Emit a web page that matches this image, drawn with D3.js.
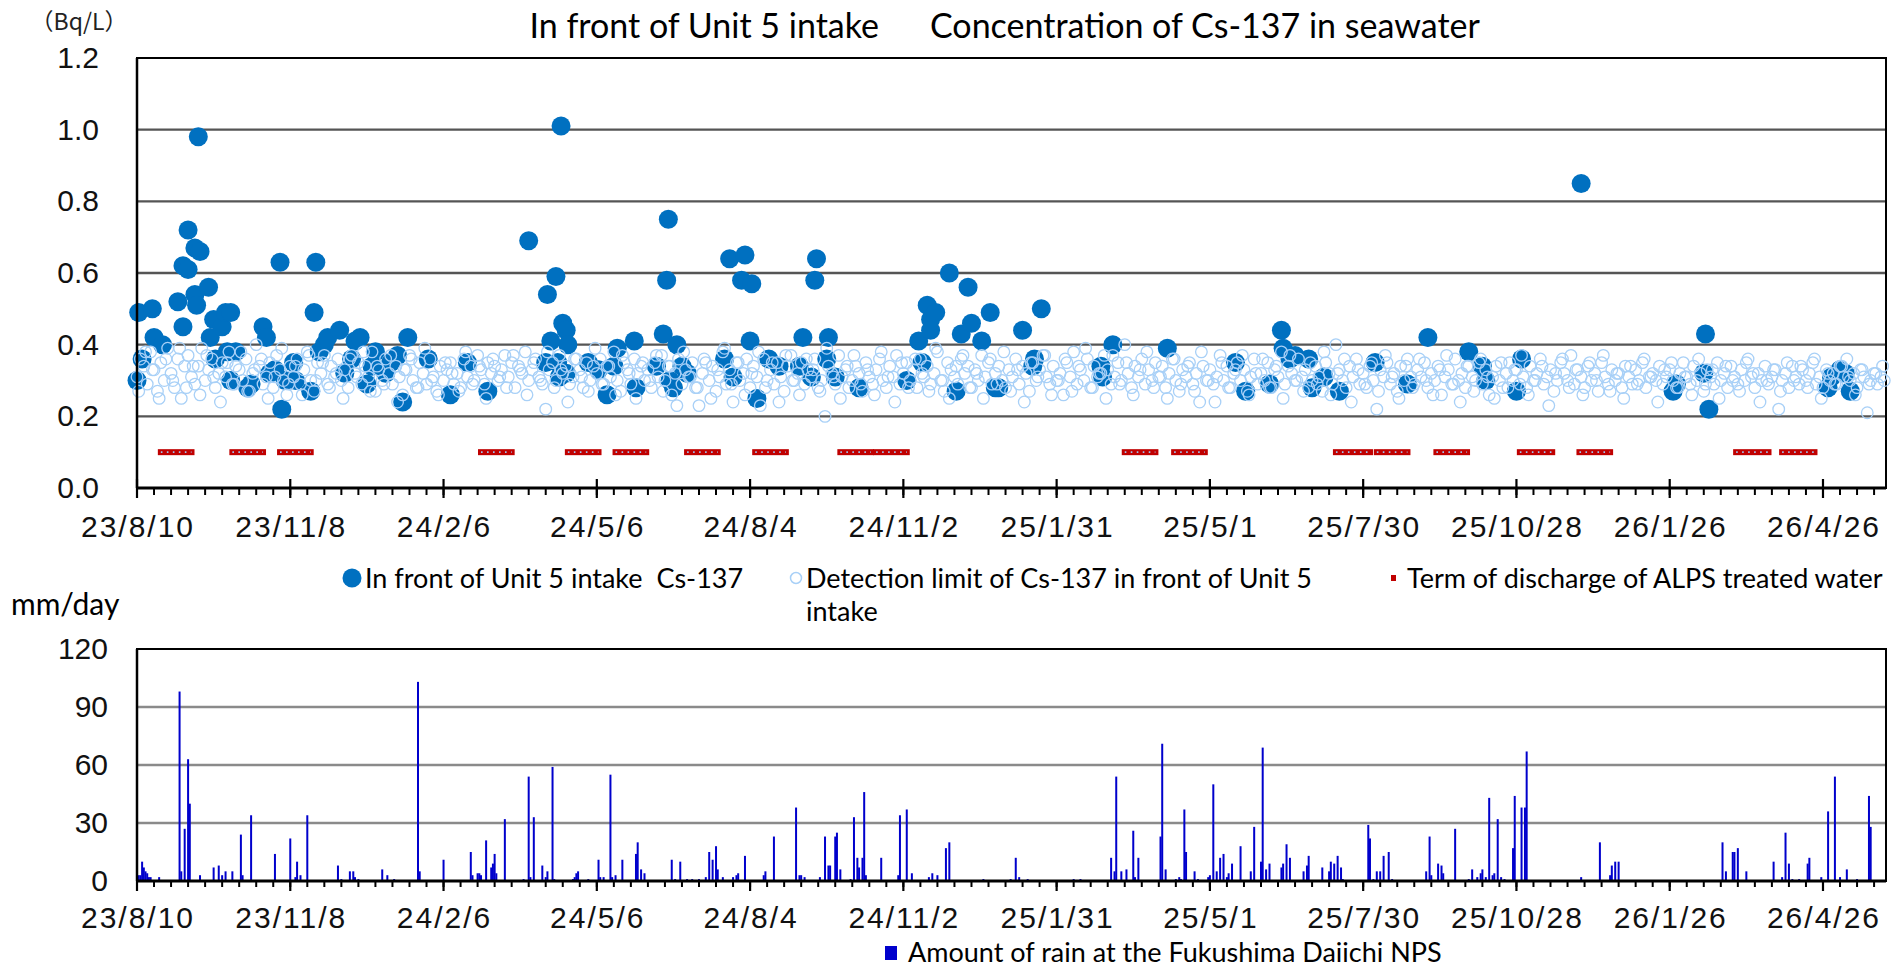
<!DOCTYPE html>
<html><head><meta charset="utf-8">
<script src="https://cdn.jsdelivr.net/npm/d3@7"></script>
<style>body{margin:0;background:#fff}svg{display:block}text{white-space:pre}</style>
</head><body>
<svg id="c" width="1904" height="967"></svg>
<script>
// ---------- DATA ----------
const startDate = "2023-08-10";
const endDate = "2026-06-02";
const tickLabels = ["23/8/10","23/11/8","24/2/6","24/5/6","24/8/4","24/11/2","25/1/31","25/5/1","25/7/30","25/10/28","26/1/26","26/4/26"];
const concTicks = [0,0.2,0.4,0.6,0.8,1.0,1.2];
const rainTicks = [0,30,60,90,120];

// Detected Cs-137 (days after 2023-08-10, Bq/L)
const csDay = [0,1,3,9,10,15,24,27,27,30,30,34,37,34,35,36,42,43,45,46,50,52,55,53,55,58,65,67,74,76,78,81,84,85,87,92,93,102,105,104,107,110,112,119,122,126,128,131,135,138,140,146,149,153,156,159,171,184,194,206,230,240,241,246,243,247,248,249,250,252,253,252,265,271,276,280,282,292,293,305,309,311,312,313,315,317,320,323,345,348,350,355,357,361,360,364,371,377,389,391,399,398,396,405,406,410,424,452,459,464,466,469,466,461,477,481,484,488,490,496,501,504,506,520,526,527,531,566,567,573,605,645,651,665,672,673,677,680,688,690,697,706,727,746,758,782,790,792,813,810,848,902,904,921,920,923,993,995,1000,1003,1006];
const csBq = [0.30,0.49,0.36,0.50,0.42,0.40,0.52,0.45,0.62,0.61,0.72,0.67,0.66,0.54,0.51,0.98,0.56,0.42,0.47,0.36,0.45,0.49,0.49,0.38,0.30,0.38,0.28,0.29,0.45,0.42,0.32,0.33,0.63,0.22,0.30,0.35,0.30,0.27,0.63,0.49,0.38,0.40,0.42,0.44,0.32,0.36,0.41,0.42,0.29,0.34,0.38,0.32,0.35,0.37,0.24,0.42,0.36,0.26,0.35,0.27,0.69,0.35,0.54,0.59,0.41,0.35,0.31,1.01,0.46,0.44,0.40,0.32,0.35,0.33,0.26,0.34,0.39,0.41,0.28,0.34,0.43,0.58,0.75,0.30,0.28,0.40,0.34,0.32,0.36,0.64,0.31,0.58,0.65,0.57,0.41,0.25,0.36,0.34,0.34,0.42,0.64,0.58,0.31,0.36,0.42,0.31,0.28,0.30,0.41,0.51,0.47,0.49,0.44,0.35,0.60,0.27,0.43,0.56,0.46,0.41,0.49,0.28,0.28,0.44,0.34,0.36,0.50,0.34,0.31,0.40,0.39,0.35,0.27,0.29,0.44,0.39,0.36,0.37,0.36,0.28,0.31,0.27,0.35,0.29,0.42,0.38,0.34,0.30,0.36,0.27,0.85,0.27,0.29,0.43,0.32,0.22,0.28,0.31,0.33,0.32,0.27];

// Detection limit of Cs-137, every 2nd day from 2023-08-10 (Bq/L)
const dlBqA = [
.31,.36,.34,.29,.38,.33,.27,.35,.30,.39,.32,.28,.36,.25,.34,
.37,.31,.29,.34,.39,.30,.33,.36,.28,.32,.35,.31,.38,.29,.34,
.33,.30,.36,.27,.32,.40,.34,.29,.31,.35,.28,.37,.33,.30,.26,
.34,.31,.36,.29,.33,.38,.30,.27,.35,.32,.37,.29,.34,.31,.36,
.30,.33,.28,.37,.32,.35,.29,.34,.31,.38,.27,.33,.30,.36,.32,
.29,.34,.31,.26,.33,.37,.30,.28,.35,.32,.29,.36,.31,.27,.34,
.30,.33,.35,.29,.32,.28,.36,.31,.34,.30,.37,.33,.29,.35,.32,
.34,.30,.33,.37,.31,.35,.28,.34,.32,.38,.30,.33,.36,.31,.29,
.22,.33,.35,.30,.37,.32,.34,.29,.31,.36,.33,.28,.35,.30,.34,
.32,.36,.29,.34,.31,.38,.30,.27,.35,.33,.29,.36,.32,.34,.30,
.33,.28,.35,.31,.37,.30,.34,.26,.32,.36,.29,.33,.31,.35,.28,
.23,.32,.35,.30,.34,.27,.31,.38,.29,.33,.24,.35,.30,.32,.36,
.28,.34,.31,.23,.36,.30,.33,.29,.35,.31,.27,.34,.37,.30,.32,
.35,.29,.33,.31,.36,.28,.30,.20,.34,.32,.29,.37,.31,.33,.28,
.30,.34,.32,.27,.35,.31,.29,.33,.36,.30,.28,.34,.31,.37,.29,
.32,.35,.30,.33,.28,.36,.31,.34,.29,.32,.38,.30,.27,.35,.33,
.31,.29,.36,.32,.34,.28,.33,.30,.37,.31,.35,.29,.32,.34,.30,
.28,.33,.31,.36,.29,.34,.32,.27,.35,.30,.33,.37,.31,.29,.34,
.30,.32,.26,.35,.31,.38,.29,.33,.30,.36,.28,.34,.31,.32,.37,
.33,.29,.31,.35,.30,.40,.32,.28,.34,.31,.36,.29,.33,.30,.35,
.31,.34,.28,.32,.36,.30,.27,.33,.31,.35,.29,.32,.24,.34,.30,
.33,.29,.31,.37,.30,.34,.28,.32,.35,.30,.33,.27,.31,.36,.29,
.32,.30,.35,.28,.33,.31,.38,.29,.34,.32,.30,.36,.31,.33,.28,
.30,.34,.31,.27,.35,.32,.29,.40,.33,.30,.28,.34,.31,.36,.29,
.32,.28,.34,.30,.22,.33,.31,.35,.29,.32,.27,.34,.30,.36,.31,
.29,.33,.31,.35,.28,.32,.30,.34,.26,.31,.33,.29,.36,.30,.32,
.28,.34,.31,.30,.35,.29,.33,.26,.31,.34,.30,.28,.32,.35,.30,
.33,.29,.31,.28,.34,.30,.32,.36,.29,.31,.33,.27,.30,.35,.32,
.30,.37,.29,.33,.31,.28,.34,.30,.32,.27,.35,.31,.29,.33,.30,
.32,.28,.34,.31,.29,.33,.30,.35,.28,.31,.32,.30,.34,.29,.31,
.33,.30,.28,.32,.35,.31,.29,.34,.30,.32,.27,.33,.31,.29,.35,
.30,.32,.28,.34,.31,.29,.33,.30,.36,.31,.28,.32,.30,.34,.29,
.31,.33,.22,.30,.32,.28,.34,.31,.29,.33,.30,.32,.35,.29,.31,
.28,.33,.30,.32,.29,.34,.31,.36,.30,.32,.28,.33,.31,.21,.30,
.32,.29,.31,.30];
// Further detection-limit readings, every 4th day from 2023-08-11 (Bq/L)
const dlBqB = [
.27,.38,.33,.25,.36,.30,.39,.28,.34,.26,.37,.31,.24,.35,.29,
.38,.27,.33,.36,.25,.31,.39,.29,.34,.26,.37,.30,.35,.28,.32,
.25,.36,.31,.38,.27,.34,.29,.37,.24,.33,.36,.28,.39,.30,.26,
.35,.32,.27,.38,.29,.34,.25,.36,.31,.28,.37,.33,.26,.35,.30,
.38,.28,.33,.24,.36,.31,.27,.39,.29,.34,.26,.37,.32,.25,.35,
.30,.37,.27,.34,.23,.38,.31,.28,.36,.25,.33,.39,.29,.35,.26,
.32,.38,.28,.35,.24,.37,.30,.26,.36,.33,.27,.39,.31,.25,.34,
.37,.29,.33,.26,.38,.31,.24,.35,.28,.36,.32,.27,.39,.30,.25,
.34,.37,.28,.32,.25,.36,.29,.38,.27,.33,.24,.35,.31,.37,.26,
.30,.36,.27,.34,.39,.28,.32,.25,.37,.29,.35,.26,.33,.38,.28,
.31,.25,.36,.29,.34,.27,.38,.30,.24,.35,.28,.33,.37,.26,.32,
.36,.28,.34,.25,.37,.30,.27,.35,.29,.38,.26,.32,.36,.24,.33,
.29,.35,.27,.37,.31,.25,.34,.28,.36,.30,.26,.33,.37,.29,.24,
.34,.27,.36,.31,.25,.35,.28,.33,.37,.26,.30,.34,.23,.32,.36,
.28,.33,.26,.35,.30,.37,.27,.32,.25,.34,.29,.36,.31,.24,.33,
.35,.28,.31,.26,.36,.29,.33,.25,.34,.30,.27,.35,.32,.24,.30,
.33,.27,.35,.30,.34,.28,.36,.25,.32,.29,.34,.31,.26,.33,.29,
.32,.34];

// Terms of discharge of ALPS treated water
const dischargeStart = ["2023-08-24","2023-10-05","2023-11-02","2024-02-28","2024-04-19","2024-05-17","2024-06-28","2024-08-07","2024-09-26","2024-10-17","2025-03-12","2025-04-10","2025-07-14","2025-08-07","2025-09-11","2025-10-30","2025-12-04","2026-03-06","2026-04-02"];
const dischargeEnd   = ["2023-09-11","2023-10-23","2023-11-20","2024-03-17","2024-05-07","2024-06-04","2024-07-16","2024-08-25","2024-10-14","2024-11-04","2025-03-30","2025-04-28","2025-08-03","2025-08-25","2025-09-29","2025-11-18","2025-12-22","2026-03-25","2026-04-21"];

// Daily rain (days after 2023-08-10, mm/day)
const rainDay = [0,1,2,3,4,5,6,7,8,13,25,26,28,30,31,37,45,48,50,52,56,61,62,67,81,90,93,94,96,100,118,120,125,127,128,130,144,147,151,165,166,180,196,197,200,201,202,205,208,209,210,211,216,227,230,231,233,238,240,241,244,245,256,257,258,259,265,271,272,274,278,279,281,285,293,294,296,298,314,316,319,323,326,330,334,336,338,340,341,344,350,352,353,357,368,369,374,387,389,390,392,401,404,406,407,410,411,413,419,421,423,424,426,427,428,437,447,448,452,455,465,467,470,475,477,497,513,516,518,523,550,554,572,574,575,578,581,585,586,588,601,602,604,610,612,613,615,616,621,623,629,630,632,634,636,638,640,641,643,648,654,656,660,661,663,665,672,673,675,677,685,687,688,696,700,701,703,705,707,708,723,724,726,728,730,732,735,737,757,759,760,764,766,767,774,782,784,787,789,790,792,794,796,797,799,801,803,808,809,813,815,816,848,859,865,866,868,870,931,933,937,938,940,945,961,966,968,970,972,976,981,982,989,993,997,1000,1004,1010,1017,1018];
const rainMm = [11,3,3,10,7,5,4,2,2,2,98,5,27,63,40,3,7,8,3,5,5,24,3,34,14,22,2,10,3,34,8,1,5,5,2,1,6,3,1,103,5,11,15,3,4,4,3,21,7,9,14,4,32,1,54,2,33,8,2,5,59,1,1,2,4,5,1,11,2,2,55,2,3,11,14,20,6,4,11,1,10,1,1,1,2,15,11,18,6,2,2,3,4,13,3,5,23,38,3,3,2,2,23,8,8,23,25,6,1,33,12,7,12,46,3,12,3,34,37,4,2,4,3,17,20,1,1,12,2,1,1,1,12,5,54,5,6,26,2,12,23,71,6,1,2,1,37,15,5,1,2,3,50,5,12,14,2,4,9,18,5,28,10,69,6,9,7,9,19,12,5,8,13,7,5,10,9,13,7,1,29,22,1,5,5,13,15,1,5,23,3,9,8,4,27,1,6,2,4,6,2,43,3,4,32,2,1,17,44,38,38,67,2,20,3,8,10,10,20,5,15,15,17,5,10,2,25,9,1,1,9,12,2,36,54,2,6,1,44,28];

// ---------- DRAW ----------
const svg = d3.select("#c");
const parse = d3.utcParse("%Y-%m-%d");
const parseTick = d3.utcParse("%y/%m/%d");
const base = parse(startDate);
const dayToDate = d => d3.utcDay.offset(base, d);

const X0 = 137, X1 = 1886;
const x = d3.scaleUtc().domain([base, parse(endDate)]).range([X0, X1]);
const yC = d3.scaleLinear().domain([0, 1.2]).range([488, 58]);
const yR = d3.scaleLinear().domain([0, 120]).range([881, 649]);

const majorDates = tickLabels.map(parseTick);
const totalDays = d3.utcDay.count(base, parse(endDate));
const minorDates = d3.range(0, totalDays + 1, 10).map(dayToDate);

const tickFont = "'Liberation Sans', Arial, sans-serif";
const textFont = "Lato, 'Open Sans', sans-serif";

// Title
svg.append("text").attr("x", 879).attr("y", 38).attr("text-anchor", "end")
  .style("font-family", textFont).style("font-size", "34px").text("In front of Unit 5 intake");
svg.append("text").attr("x", 930).attr("y", 38).attr("text-anchor", "start")
  .style("font-family", textFont).style("font-size", "34px").text("Concentration of Cs-137 in seawater");
svg.append("text").attr("x", 79).attr("y", 30).attr("text-anchor", "middle")
  .style("font-family", "'Noto Sans CJK JP', sans-serif").style("font-size", "23px").style("fill", "#222").text("（Bq/L）");

// ----- Top chart -----
const gTop = svg.append("g");
gTop.selectAll("line.grid").data(concTicks.filter(v => v > 0 && v < 1.2)).join("line")
  .attr("x1", X0).attr("x2", X1).attr("y1", d => yC(d)).attr("y2", d => yC(d))
  .attr("stroke", "#555").attr("stroke-width", 2.4);
gTop.append("rect").attr("x", X0).attr("y", yC(1.2)).attr("width", X1 - X0).attr("height", yC(0) - yC(1.2))
  .attr("fill", "none").attr("stroke", "#000").attr("stroke-width", 2);

const yAxisC = d3.axisLeft(yC).tickValues(concTicks).tickFormat(d3.format(".1f")).tickSize(0).tickPadding(38);
const gyc = gTop.append("g").attr("transform", `translate(${X0},0)`).call(yAxisC);
gyc.select(".domain").remove();
gyc.selectAll("text").style("font-family", tickFont).style("font-size", "30px").attr("fill", "#111");

// detected
gTop.selectAll("circle.cs").data(csDay.map((d, i) => ({d, v: csBq[i]}))).join("circle")
  .attr("cx", p => x(dayToDate(p.d))).attr("cy", p => yC(p.v)).attr("r", 9.5)
  .attr("fill", "#0070c0");
// detection limits
const dlPts = dlBqA.map((v, i) => ({d: 2 * i, v}))
  .concat(dlBqB.map((v, i) => ({d: 4 * i + 1, v})));
gTop.selectAll("circle.dl").data(dlPts).join("circle")
  .attr("cx", p => x(dayToDate(p.d))).attr("cy", p => yC(p.v)).attr("r", 5.8)
  .attr("fill", "none").attr("stroke", "#a8d0f7").attr("stroke-width", 1.3);
// discharge terms
const dis = dischargeStart.map((s, i) => ({s: parse(s), e: parse(dischargeEnd[i])}));
gTop.selectAll("rect.dis").data(dis).join("rect")
  .attr("x", p => x(p.s) - 3).attr("width", p => x(p.e) - x(p.s) + 6)
  .attr("y", yC(0.1) - 3).attr("height", 6).attr("fill", "#c00000");
gTop.selectAll("line.disdot").data(dis).join("line")
  .attr("x1", p => x(p.s)).attr("x2", p => x(p.e)).attr("y1", yC(0.1)).attr("y2", yC(0.1))
  .attr("stroke", "#9ec3ee").attr("stroke-width", 1.6).attr("stroke-dasharray", "1.6 4.4");

// x axis (top)
gTop.append("line").attr("x1", X0).attr("x2", X1).attr("y1", yC(0)).attr("y2", yC(0)).attr("stroke", "#000").attr("stroke-width", 3);
gTop.append("line").attr("x1", X0).attr("x2", X0).attr("y1", yC(1.2)).attr("y2", yC(0)).attr("stroke", "#000").attr("stroke-width", 2.5);
gTop.selectAll("line.minor").data(minorDates).join("line")
  .attr("x1", d => x(d)).attr("x2", d => x(d)).attr("y1", yC(0)).attr("y2", yC(0) + 7)
  .attr("stroke", "#000").attr("stroke-width", 2);
gTop.selectAll("line.major").data(majorDates).join("line")
  .attr("x1", d => x(d)).attr("x2", d => x(d)).attr("y1", yC(0) - 9).attr("y2", yC(0) + 10)
  .attr("stroke", "#000").attr("stroke-width", 2.2);
gTop.selectAll("text.xl").data(majorDates).join("text")
  .attr("x", d => x(d) + 1).attr("y", 537).attr("text-anchor", "middle")
  .style("font-family", tickFont).style("font-size", "30px").style("letter-spacing", "2px").attr("fill", "#111")
  .text((d, i) => tickLabels[i]);

// legend (top)
const lg = svg.append("g").style("font-family", textFont).style("font-size", "27px").attr("fill", "#000");
lg.append("circle").attr("cx", 352).attr("cy", 578).attr("r", 9.5).attr("fill", "#0070c0");
lg.append("text").attr("x", 365).attr("y", 588).text("In front of Unit 5 intake  Cs-137");
lg.append("circle").attr("cx", 796).attr("cy", 578).attr("r", 5.5).attr("fill", "none").attr("stroke", "#a8d0f7").attr("stroke-width", 1.5);
lg.append("text").attr("x", 806).attr("y", 588).text("Detection limit of Cs-137 in front of Unit 5");
lg.append("text").attr("x", 806).attr("y", 621).text("intake");
lg.append("rect").attr("x", 1391).attr("y", 575).attr("width", 5).attr("height", 6).attr("fill", "#c00000");
lg.append("text").attr("x", 1407).attr("y", 588).text("Term of discharge of ALPS treated water");

// ----- Bottom chart -----
svg.append("text").attr("x", 11).attr("y", 615).style("font-family", textFont).style("font-size", "30px").text("mm/day");
const gBot = svg.append("g");
gBot.selectAll("line.grid").data(rainTicks.filter(v => v > 0 && v < 120)).join("line")
  .attr("x1", X0).attr("x2", X1).attr("y1", d => yR(d)).attr("y2", d => yR(d))
  .attr("stroke", "#8a8a8a").attr("stroke-width", 2.6);
gBot.append("rect").attr("x", X0).attr("y", yR(120)).attr("width", X1 - X0).attr("height", yR(0) - yR(120))
  .attr("fill", "none").attr("stroke", "#000").attr("stroke-width", 2);
const yAxisR = d3.axisLeft(yR).tickValues(rainTicks).tickSize(0).tickPadding(29);
const gyr = gBot.append("g").attr("transform", `translate(${X0},0)`).call(yAxisR);
gyr.select(".domain").remove();
gyr.selectAll("text").style("font-family", tickFont).style("font-size", "30px").attr("fill", "#111");

gBot.selectAll("rect.rain").data(rainDay.map((d, i) => ({d, v: rainMm[i]}))).join("rect")
  .attr("x", p => x(dayToDate(p.d)) - 1).attr("width", 2)
  .attr("y", p => yR(p.v)).attr("height", p => yR(0) - yR(p.v)).attr("fill", "#0000cc");

gBot.append("line").attr("x1", X0).attr("x2", X1).attr("y1", yR(0)).attr("y2", yR(0)).attr("stroke", "#000").attr("stroke-width", 3);
gBot.append("line").attr("x1", X0).attr("x2", X0).attr("y1", yR(120)).attr("y2", yR(0)).attr("stroke", "#000").attr("stroke-width", 2.5);
gBot.selectAll("line.minor").data(minorDates).join("line")
  .attr("x1", d => x(d)).attr("x2", d => x(d)).attr("y1", yR(0)).attr("y2", yR(0) + 6)
  .attr("stroke", "#000").attr("stroke-width", 2);
gBot.selectAll("line.major").data(majorDates).join("line")
  .attr("x1", d => x(d)).attr("x2", d => x(d)).attr("y1", yR(0)).attr("y2", yR(0) + 10)
  .attr("stroke", "#000").attr("stroke-width", 2.2);
gBot.selectAll("text.xl").data(majorDates).join("text")
  .attr("x", d => x(d) + 1).attr("y", 928).attr("text-anchor", "middle")
  .style("font-family", tickFont).style("font-size", "30px").style("letter-spacing", "2px").attr("fill", "#111")
  .text((d, i) => tickLabels[i]);

// legend (bottom)
svg.append("rect").attr("x", 885).attr("y", 946).attr("width", 12).attr("height", 14).attr("fill", "#0000cc");
svg.append("text").attr("x", 908).attr("y", 962).style("font-family", textFont).style("font-size", "27px")
  .text("Amount of rain at the Fukushima Daiichi NPS");
</script>
</body></html>
